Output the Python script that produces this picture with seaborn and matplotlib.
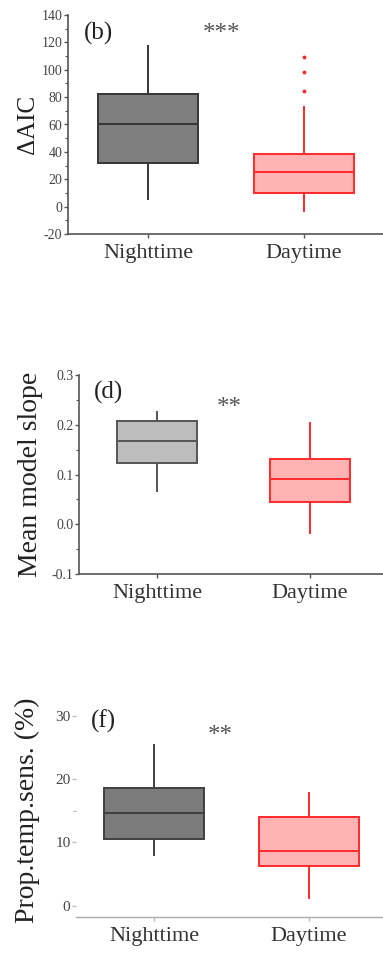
import matplotlib
matplotlib.use("Agg")
import matplotlib.pyplot as plt
import seaborn as sns
import pandas as pd
from matplotlib.ticker import MultipleLocator, FixedLocator

sns.set_style("white")
plt.rcParams['font.family'] = ['Liberation Serif', 'DejaVu Serif']
plt.rcParams['axes.unicode_minus'] = False

groups = ["Nighttime", "Daytime"]

# Panel (b): Delta AIC
aic_night = [5, 20, 31.7, 45, 60.5, 72, 82, 100, 118]
aic_day = [-3.6, 4, 7, 9, 10, 14, 18, 22, 25, 28, 31, 35, 38.3, 73.8, 84.5, 98, 109]
# Panel (d): mean model slope
slope_night = [0.064, 0.10, 0.124, 0.15, 0.167, 0.19, 0.208, 0.22, 0.228]
slope_day = [-0.02, 0.02, 0.045, 0.07, 0.09, 0.11, 0.131, 0.17, 0.206]
# Panel (f): proportion temperature sensitive (%)
prop_night = [7.8, 9, 10.5, 12.5, 14.7, 16.5, 18.7, 22, 25.6]
prop_day = [1.0, 4, 6.3, 7.5, 8.7, 11, 14, 16, 18]

fig = plt.figure(figsize=(3.83, 9.56), dpi=100)

W, H = 383, 956
def add_ax(left, top, right, bottom):
    return fig.add_axes([left / W, 1 - bottom / H, (right - left) / W, (bottom - top) / H])

ax_b = add_ax(68, 15, 383, 234)
ax_d = add_ax(79, 375, 383, 574)
ax_f = add_ax(76, 703.5, 383, 917)

panels = [
    (ax_b, aic_night, aic_day, "#7f7f7f", "#363636", 0.64, (-0.513, 1.506), (-20, 140),
     "ΔAIC", 18, 2, "(b)"),
    (ax_d, slope_night, slope_day, "#bdbdbd", "#555555", 0.52, (-0.51, 1.477), (-0.1, 0.3),
     "Mean model slope", 20, 6, "(d)"),
    (ax_f, prop_night, prop_day, "#7b7b7b", "#404040", 0.65, (-0.503, 1.477), (-1.8, 32),
     "Prop.temp.sens. (%)", 20, 11, "(f)"),
]

for ax, night, day, nfill, nedge, bw, xl, yl, ylab, ylsize, lpad, letter in panels:
    dn = pd.DataFrame({"group": "Nighttime", "value": night})
    dd = pd.DataFrame({"group": "Daytime", "value": day})
    sns.boxplot(data=dn, x="group", y="value", order=groups, ax=ax, color=nfill,
                linecolor=nedge, linewidth=1.4, width=bw, showcaps=False,
                saturation=1, whis=1.5)
    sns.boxplot(data=dd, x="group", y="value", order=groups, ax=ax, color="#ffb3b3",
                linecolor="#ff2a2a", linewidth=1.4, width=bw, showcaps=False,
                saturation=1, whis=1.5,
                flierprops=dict(marker="o", markersize=1.8, markerfacecolor="#ff2a2a",
                                markeredgecolor="#ff2a2a"))
    ax.set_xlim(*xl)
    ax.set_ylim(*yl)
    ax.set_xlabel("")
    ax.set_ylabel(ylab, fontsize=ylsize, color="#222222", labelpad=lpad)
    ax.set_xticks([0, 1])
    ax.set_xticklabels(groups, fontsize=16, color="#333333")
    ax.spines["top"].set_visible(False)
    ax.spines["right"].set_visible(False)
    ax.tick_params(axis="x", direction="out", length=3, width=1, color="#555555", pad=4,
                   bottom=True)
    ax.tick_params(axis="y", which="both", direction="out", left=True, color="#555555",
                   labelsize=10, labelcolor="#444444", pad=1)
    ax.tick_params(axis="y", which="major", length=3, width=1)
    ax.tick_params(axis="y", which="minor", length=2, width=0.8)
    ax.text(0.05, 0.97, letter, transform=ax.transAxes, fontsize=18, va="top",
            ha="left", color="#222222")

# panel specifics
ax_b.yaxis.set_major_locator(MultipleLocator(20))
ax_b.yaxis.set_minor_locator(MultipleLocator(10))
for s in ["left", "bottom"]:
    ax_b.spines[s].set_color("#555555")
    ax_b.spines[s].set_linewidth(1.2)

ax_d.yaxis.set_major_locator(MultipleLocator(0.1))
ax_d.yaxis.set_minor_locator(MultipleLocator(0.05))
ax_d.set_yticklabels([f"{v:.1f}" for v in ax_d.get_yticks()])
for s in ["left", "bottom"]:
    ax_d.spines[s].set_color("#555555")
    ax_d.spines[s].set_linewidth(1.2)

ax_f.yaxis.set_major_locator(FixedLocator([0, 10, 20, 30]))
ax_f.yaxis.set_minor_locator(FixedLocator([15]))
ax_f.spines["left"].set_visible(False)
ax_f.spines["bottom"].set_color("#aaaaaa")
ax_f.spines["bottom"].set_linewidth(1.0)
ax_f.tick_params(axis="y", which="both", color="#bbbbbb", labelsize=11)
ax_f.tick_params(axis="x", color="#bbbbbb")

# significance stars
fig.text(222 / W, 1 - 34 / H, "***", fontsize=18, color="#555555", ha="center", va="center")
fig.text(229 / W, 1 - 408 / H, "**", fontsize=18, color="#555555", ha="center", va="center")
fig.text(220 / W, 1 - 736 / H, "**", fontsize=18, color="#555555", ha="center", va="center")

fig.savefig("out.png", dpi=100)
